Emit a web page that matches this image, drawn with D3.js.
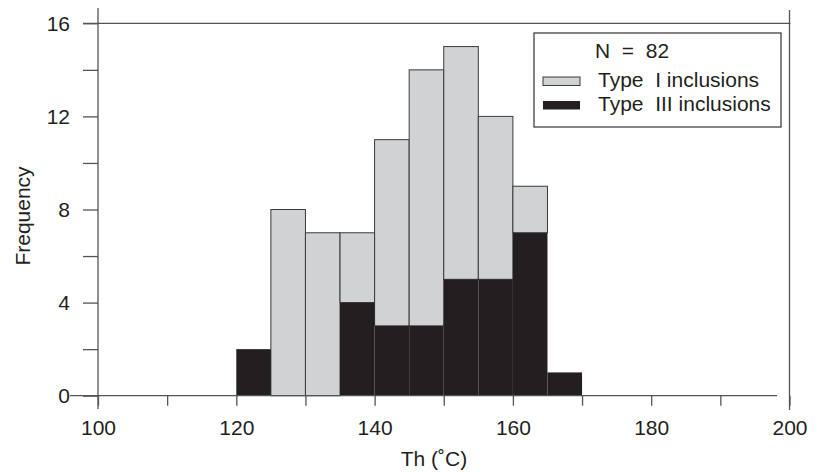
<!DOCTYPE html>
<html>
<head>
<meta charset="utf-8">
<script src="https://cdn.jsdelivr.net/npm/d3@7"></script>
<style>
  body { margin: 0; background: #fff; }
  svg text { font-family: "Liberation Sans", Arial, sans-serif; fill: #231f20; white-space: pre; }
</style>
</head>
<body>
<svg id="chart" width="820" height="472"></svg>
<script>
// histogram of homogenisation temperatures, 5 degree bins
var binStarts = [120, 125, 130, 135, 140, 145, 150, 155, 160, 165];
var typeI = [0, 8, 7, 3, 8, 11, 10, 7, 2, 0];
var typeIII = [2, 0, 0, 4, 3, 3, 5, 5, 7, 1];
var binWidth = 5;

var yMajor = [0, 4, 8, 12, 16];
var yMinor = [2, 6, 10, 14];
var xTicks = [100, 110, 120, 130, 140, 150, 160, 170, 180, 190, 200];
var xLabels = [100, 120, 140, 160, 180, 200];

var legendTitle = "N  =  82";
var seriesNames = ["Type  I inclusions", "Type  III inclusions"];
var seriesColors = ["#d1d2d4", "#231f20"];

var svg = d3.select("#chart");
var x = d3.scaleLinear().domain([100, 200]).range([98, 789.5]);
var y = d3.scaleLinear().domain([0, 16]).range([395.7, 23.3]);

var lineCol = "#555";
var fs = 21;

// bars: type III at the bottom, type I stacked above
var bins = binStarts.map(function(s, i) {
    return {x0: s, x1: s + binWidth, b: typeIII[i], g: typeI[i]};
});

svg.append("g").selectAll("rect.gray")
    .data(bins.filter(function(d) { return d.g > 0; }))
    .enter().append("rect")
    .attr("class", "gray")
    .attr("x", function(d) { return x(d.x0); })
    .attr("width", function(d) { return x(d.x1) - x(d.x0); })
    .attr("y", function(d) { return y(d.b + d.g); })
    .attr("height", function(d) { return y(d.b) - y(d.b + d.g); })
    .attr("fill", seriesColors[0])
    .attr("stroke", "#3a3a3a")
    .attr("stroke-width", 1);

svg.append("g").selectAll("rect.black")
    .data(bins.filter(function(d) { return d.b > 0; }))
    .enter().append("rect")
    .attr("class", "black")
    .attr("x", function(d) { return x(d.x0); })
    .attr("width", function(d) { return x(d.x1) - x(d.x0); })
    .attr("y", function(d) { return y(d.b); })
    .attr("height", function(d) { return y(0) - y(d.b); })
    .attr("fill", seriesColors[1]);

// frame lines
svg.append("line").attr("x1", x(100)).attr("x2", x(100)).attr("y1", 8).attr("y2", 409)
    .attr("stroke", lineCol).attr("stroke-width", 1.3);
svg.append("line").attr("x1", 70).attr("x2", 777).attr("y1", y(0)).attr("y2", y(0))
    .attr("stroke", lineCol).attr("stroke-width", 1.3);
svg.append("line").attr("x1", 83).attr("x2", x(200) + 1).attr("y1", y(16)).attr("y2", y(16))
    .attr("stroke", lineCol).attr("stroke-width", 1.3);
svg.append("line").attr("x1", x(200)).attr("x2", x(200)).attr("y1", 10).attr("y2", 410)
    .attr("stroke", lineCol).attr("stroke-width", 1.3);

// y axis
svg.append("g").attr("transform", "translate(" + x(100) + ",0)")
    .call(d3.axisLeft(y).tickValues(yMajor).tickSize(15).tickPadding(13).tickFormat(d3.format("d")));
svg.append("g").attr("transform", "translate(" + x(100) + ",0)")
    .call(d3.axisLeft(y).tickValues(yMinor).tickSize(15).tickFormat(""));

// x axis
svg.append("g").attr("transform", "translate(0," + y(0) + ")")
    .call(d3.axisBottom(x).tickValues(xTicks).tickSize(10).tickPadding(14)
        .tickFormat(function(d) { return xLabels.indexOf(d) >= 0 ? d : ""; }));

svg.selectAll(".domain").remove();
svg.selectAll(".tick line").attr("stroke", lineCol).attr("stroke-width", 1.3);
svg.selectAll(".tick text").attr("font-size", fs).attr("fill", "#231f20")
    .attr("font-family", "'Liberation Sans', Arial, sans-serif");

// axis titles
svg.append("text")
    .attr("x", 434).attr("y", 466)
    .attr("text-anchor", "middle").attr("font-size", fs)
    .text("Th (\u02DAC)");

svg.append("text")
    .attr("transform", "translate(30," + 216 + ") rotate(-90)")
    .attr("text-anchor", "middle").attr("font-size", fs)
    .text("Frequency");

// legend
var lg = svg.append("g");
lg.append("rect").attr("x", 534).attr("y", 33).attr("width", 247).attr("height", 94)
    .attr("fill", "#fff").attr("stroke", "#333").attr("stroke-width", 1.2);
lg.append("text").attr("x", 595).attr("y", 58).attr("font-size", fs).text(legendTitle);
seriesNames.forEach(function(name, i) {
    var yy = 87 + i * 24;
    lg.append("rect").attr("x", 543).attr("y", yy - 10).attr("width", 37).attr("height", 8.5)
        .attr("fill", seriesColors[i]).attr("stroke", i === 0 ? "#3a3a3a" : "none")
        .attr("stroke-width", 1);
    lg.append("text").attr("x", 598).attr("y", yy).attr("font-size", fs).text(name);
});
</script>
</body>
</html>
